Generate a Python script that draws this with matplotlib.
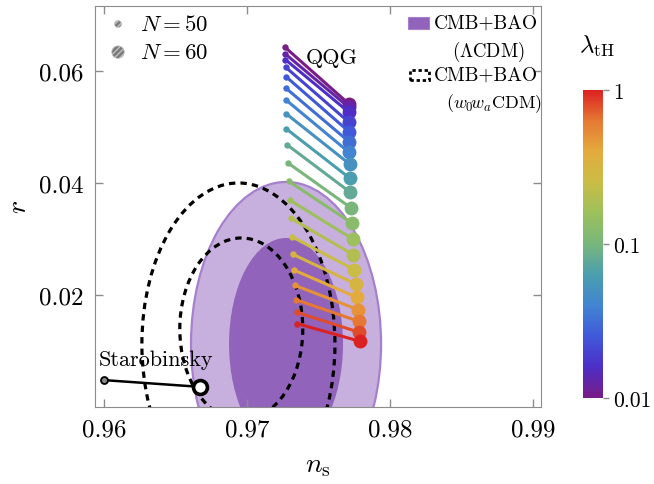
import numpy as np
import matplotlib
matplotlib.use("Agg")
import matplotlib.pyplot as plt
from matplotlib.colors import LinearSegmentedColormap, LogNorm
from matplotlib.patches import Ellipse, Rectangle
import matplotlib.cm as cm

plt.rcParams["font.family"] = "serif"
plt.rcParams["font.serif"] = ["cmr10"]
plt.rcParams["mathtext.fontset"] = "cm"
plt.rcParams["axes.formatter.use_mathtext"] = True

# QQG predictions, one line per lambda_tH
lam_tH = [0.01, 0.0126, 0.0158, 0.02, 0.0251, 0.0316, 0.0398, 0.0501, 0.0631, 0.0794,
          0.1, 0.126, 0.158, 0.2, 0.251, 0.316, 0.398, 0.501, 0.631, 0.794, 1.0]
ns_N50 = [0.97266, 0.97268, 0.97269, 0.97271, 0.97273, 0.97273, 0.97273, 0.97273, 0.97276, 0.97282,
          0.97287, 0.97292, 0.97301, 0.97306, 0.97313, 0.97320, 0.97327, 0.97334, 0.97341, 0.97348, 0.97352]
r_N50 = [0.06423, 0.06304, 0.06202, 0.06066, 0.05898, 0.05691, 0.05482, 0.05238, 0.04964, 0.04679,
         0.04357, 0.04030, 0.03691, 0.03370, 0.03041, 0.02727, 0.02446, 0.02173, 0.01916, 0.01691, 0.01488]
ns_N60 = [0.97713, 0.97713, 0.97713, 0.97713, 0.97713, 0.97713, 0.97713, 0.97717, 0.97717, 0.97722,
          0.97725, 0.97732, 0.97739, 0.97743, 0.97750, 0.97760, 0.97767, 0.97776, 0.97781, 0.97785, 0.97790]
r_N60 = [0.05411, 0.05348, 0.05263, 0.05084, 0.04916, 0.04738, 0.04548, 0.04339, 0.04089, 0.03834,
         0.03559, 0.03286, 0.03000, 0.02720, 0.02452, 0.02196, 0.01959, 0.01738, 0.01530, 0.01334, 0.01173]

# Starobinsky N=50, N=60
staro_ns = [0.9600, 0.9667]
staro_r = [0.0048, 0.0036]

# CMB+BAO contours (center ns, center r, width, height)
lcdm_2s = (0.97273, 0.01125, 0.01329, 0.05786)
lcdm_1s = (0.97273, 0.01125, 0.00797, 0.03786)
w0wa_2s = (0.96940, 0.01125, 0.01350, 0.05750)
w0wa_1s = (0.96960, 0.01393, 0.00860, 0.03250)

cmap = LinearSegmentedColormap.from_list("rainbow_m", [
    (0.0, "#781c86"), (0.1, "#4d2ec7"), (0.2, "#4059d9"), (0.3, "#4285d1"),
    (0.4, "#4b9eae"), (0.5, "#78b67c"), (0.6, "#9cc05c"), (0.7, "#c9bd46"),
    (0.8, "#e3ab3d"), (0.9, "#e67a33"), (1.0, "#db2222")])
norm = LogNorm(0.01, 1)

fig = plt.figure(figsize=(6.54, 4.85), dpi=100)
ax = fig.add_axes([95/654, 77/485, 446/654, 401/485])
cax = fig.add_axes([583/654, 86/485, 20/654, 308/485])

light, dark, edge = "#c8b0de", "#9163bb", "#a680cc"
cx, cy, w, h = lcdm_2s
ax.add_patch(Ellipse((cx, cy), w, h, fc=light, ec=edge, lw=1.6, zorder=1))
cx, cy, w, h = lcdm_1s
ax.add_patch(Ellipse((cx, cy), w, h, fc=dark, ec="none", zorder=1.1))
for cx, cy, w, h in [w0wa_2s, w0wa_1s]:
    ax.add_patch(Ellipse((cx, cy), w, h, fill=False, ec="k", lw=2.3,
                         ls=(0, (2, 1.6)), zorder=2))

for i in range(len(lam_tH)):
    c = cmap(norm(lam_tH[i]))
    ax.plot([ns_N50[i], ns_N60[i]], [r_N50[i], r_N60[i]], color=c, lw=2.2,
            solid_capstyle="round", zorder=3 + i * 0.01)
    ax.plot(ns_N50[i], r_N50[i], "o", color=c, ms=4.6, mew=0, zorder=3 + i * 0.01)
    ax.plot(ns_N60[i], r_N60[i], "o", color=c, ms=10, mew=0, zorder=3 + i * 0.01)

ax.plot(staro_ns, staro_r, color="k", lw=1.8, zorder=4)
ax.plot(staro_ns[0], staro_r[0], "o", ms=5, mfc="#888888", mec="k", mew=1.3, zorder=4)
ax.plot(staro_ns[1], staro_r[1], "o", ms=10, mfc="white", mec="k", mew=2.6, zorder=4)
ax.text(0.95965, 0.0075, "Starobinsky", fontsize=16, zorder=5)
ax.text(0.97594, 0.0625, "QQG", fontsize=16, ha="center", va="center", zorder=5)

# legends drawn by hand
ax.scatter([0.0516], [0.955], s=25, fc="#7a7a7a", ec="#c0c0c0", lw=0.5, hatch="//////",
           transform=ax.transAxes, zorder=6)
ax.scatter([0.0516], [0.885], s=80, fc="#7a7a7a", ec="#c0c0c0", lw=0.5, hatch="//////",
           transform=ax.transAxes, zorder=6)
ax.text(0.10, 0.955, r"$N=50$", fontsize=16.5, va="center", transform=ax.transAxes)
ax.text(0.10, 0.885, r"$N=60$", fontsize=16.5, va="center", transform=ax.transAxes)

ax.add_patch(Rectangle((0.702, 0.943), 0.047, 0.030, fc=dark, ec=edge, lw=0.8,
                       transform=ax.transAxes))
ax.add_patch(Rectangle((0.706, 0.815), 0.042, 0.026, fill=False, ec="k", lw=2.0,
                       ls=(0, (1.2, 1.0)), transform=ax.transAxes))
ax.text(0.760, 0.958, "CMB+BAO", fontsize=14, va="center", transform=ax.transAxes)
ax.text(0.800, 0.888, r"$(\Lambda\mathrm{CDM})$", fontsize=13.5, va="center", transform=ax.transAxes)
ax.text(0.760, 0.828, "CMB+BAO", fontsize=14, va="center", transform=ax.transAxes)
ax.text(0.787, 0.760, r"$(w_0\!w_a\mathrm{CDM})$", fontsize=13, va="center", transform=ax.transAxes)

ax.set_xlim(0.959371, 0.990559)
ax.set_ylim(0, 0.0716)
ax.set_xticks([0.96, 0.97, 0.98, 0.99])
ax.set_xticklabels(["0.96", "0.97", "0.98", "0.99"])
ax.set_yticks([0.02, 0.04, 0.06])
ax.set_yticklabels(["0.02", "0.04", "0.06"])
ax.tick_params(direction="in", length=6, width=1, color="#8c8c8c", labelsize=18,
               top=True, right=True, pad=8)
for s in ax.spines.values():
    s.set_color("#8c8c8c")
ax.set_xlabel(r"$n_\mathrm{s}$", fontsize=20, labelpad=8)
ax.set_ylabel(r"$r$", fontsize=20, labelpad=5)

cb = fig.colorbar(cm.ScalarMappable(norm=norm, cmap=cmap), cax=cax)
cb.outline.set_visible(False)
cb.set_ticks([0.01, 0.1, 1])
cb.set_ticklabels(["0.01", "0.1", "1"])
cax.minorticks_off()
cax.tick_params(length=4, width=1, color="#8c8c8c", labelsize=15.5, pad=3)
cax.text(0.7, 1.145, r"$\lambda_\mathrm{tH}$", fontsize=18, ha="center", va="center",
         transform=cax.transAxes)

fig.savefig("out.png", dpi=100)
